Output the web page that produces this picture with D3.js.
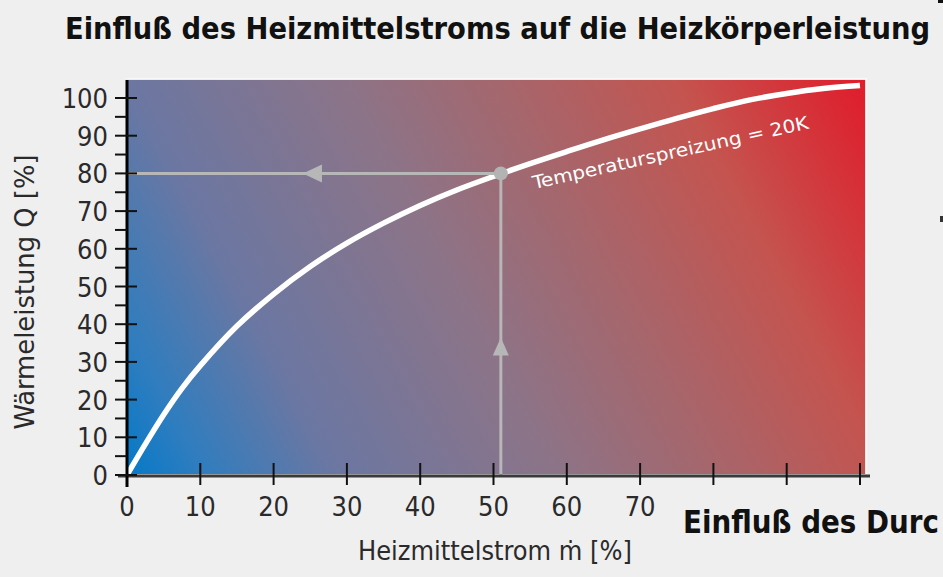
<!DOCTYPE html>
<html>
<head>
<meta charset="utf-8">
<script src="https://cdn.jsdelivr.net/npm/d3@7/dist/d3.min.js"></script>
<style>
  html, body { margin: 0; padding: 0; background: #efefef; overflow: hidden; }
  svg { display: block; }
  .narrow { font-family: "DejaVu Sans Condensed", "DejaVu Sans", "Liberation Sans", sans-serif; font-stretch: condensed; }
</style>
</head>
<body>
<svg id="chart" width="943" height="577"></svg>
<script>
// Heat output of a radiator vs. heating medium flow (spread 20 K)
const flowPct   = [0, 2.5, 5, 7.5, 10, 15, 20, 25, 30, 35, 40, 45, 50, 55, 60, 65, 70, 75, 80, 85, 90, 95, 100];
const outputPct = [0, 8.2, 16, 23, 29, 39.5, 48, 55.3, 61.5, 66.8, 71.5, 75.6, 79.2, 82.6, 85.8, 88.9, 91.8, 94.6, 97.2, 99.5, 101.2, 102.5, 103.3];

// Operating point marked with guide lines
const markFlow = [51];
const markOutput = [80];

const yTicks = [0, 10, 20, 30, 40, 50, 60, 70, 80, 90, 100];
const yMinorTicks = [5, 15, 25, 35, 45, 55, 65, 75, 85, 95];
const xTicks = [0, 10, 20, 30, 40, 50, 60, 70, 80, 90, 100];
const xTickLabels = ["0", "10", "20", "30", "40", "50", "60", "70", "", "", ""];

const titleText = "Einfluß des Heizmittelstroms auf die Heizkörperleistung";
const sideText = "Einfluß des Durc";
const curveLabel = "Temperaturspreizung = 20K";
const xTitle = "Heizmittelstrom ṁ [%]";
const yTitle = "Wärmeleistung Q [%]";

const svg = d3.select("#chart");
const x = d3.scaleLinear().domain([0, 100]).range([127, 860]);
const y = d3.scaleLinear().domain([0, 100]).range([475, 98]);

const xMax = 100.7, yMax = 104.8;
const px0 = x(0), px1 = x(xMax), py0 = y(yMax), py1 = y(0) - 1;

const defs = svg.append("defs");
const grad = defs.append("linearGradient")
  .attr("id", "heat").attr("gradientUnits", "userSpaceOnUse")
  .attr("x1", px0).attr("y1", py1).attr("x2", px1).attr("y2", py0);
[[0, "#0579c8"], [0.08, "#2f7dbf"], [0.22, "#6b77a2"], [0.45, "#8c7488"], [0.62, "#a6666c"], [0.8, "#c4544f"], [1, "#e01c2b"]]
  .forEach(([o, c]) => grad.append("stop").attr("offset", o).attr("stop-color", c));
defs.append("clipPath").attr("id", "plotClip")
  .append("rect").attr("x", px0).attr("y", py0).attr("width", px1 - px0).attr("height", py1 - py0);

// Title
svg.append("text").attr("class", "narrow")
  .attr("transform", "translate(65,39) scale(1,1.1)")
  .attr("font-size", 28).attr("font-weight", "bold").attr("fill", "#111")
  .attr("textLength", 865).attr("lengthAdjust", "spacingAndGlyphs")
  .text(titleText);

// Plot background with thin light frame
svg.append("rect").attr("x", px0).attr("y", py0 - 2).attr("width", px1 - px0 + 2).attr("height", py1 - py0 + 2).attr("fill", "#f8f8f8");
svg.append("rect").attr("x", px0).attr("y", py0).attr("width", px1 - px0).attr("height", py1 - py0).attr("fill", "url(#heat)");

const plot = svg.append("g").attr("clip-path", "url(#plotClip)");

// Characteristic curve
const line = d3.line().x((d, i) => x(flowPct[i])).y(d => y(d)).curve(d3.curveCatmullRom);
plot.append("path").datum(outputPct)
  .attr("d", line).attr("fill", "none").attr("stroke", "#ffffff").attr("stroke-width", 5.5);

// Guide lines to the operating point
const gray = "#b7b7b7";
svg.append("line").attr("x1", x(0)).attr("x2", x(markFlow[0])).attr("y1", y(markOutput[0])).attr("y2", y(markOutput[0]))
  .attr("stroke", gray).attr("stroke-width", 3);
svg.append("line").attr("x1", x(markFlow[0])).attr("x2", x(markFlow[0])).attr("y1", y(markOutput[0])).attr("y2", y(0))
  .attr("stroke", gray).attr("stroke-width", 3);
svg.append("circle").attr("cx", x(markFlow[0])).attr("cy", y(markOutput[0])).attr("r", 7).attr("fill", "#b3b3b3");

// Arrow heads on the guide lines
const lx = x(24), ly = y(markOutput[0]);
svg.append("path").attr("d", `M${lx},${ly} L${lx + 19},${ly - 9} L${lx + 19},${ly + 9} Z`).attr("fill", gray);
const ux = x(markFlow[0]), uy = y(36.5);
svg.append("path").attr("d", `M${ux},${uy} L${ux - 8},${uy + 18} L${ux + 8},${uy + 18} Z`).attr("fill", gray);

// Curve label
svg.append("text").attr("class", "narrow")
  .attr("transform", "translate(534,189) rotate(-12.4)")
  .attr("font-size", 18).attr("fill", "#ffffff")
  .attr("textLength", 282).attr("lengthAdjust", "spacingAndGlyphs")
  .text(curveLabel);

// X axis
const xAxisG = svg.append("g");
xAxisG.append("line").attr("x1", 118).attr("x2", 870).attr("y1", 476).attr("y2", 476)
  .attr("stroke", "#3a3a3a").attr("stroke-width", 3);
xAxisG.selectAll("line.tick").data(xTicks).join("line").attr("class", "tick")
  .attr("x1", d => x(d)).attr("x2", d => x(d)).attr("y1", 463).attr("y2", 485)
  .attr("stroke", "#111").attr("stroke-width", 2);
xAxisG.selectAll("text").data(xTicks).join("text").attr("class", "narrow")
  .attr("x", d => x(d)).attr("y", 516).attr("text-anchor", "middle")
  .attr("font-size", 27).attr("fill", "#2a2a2a")
  .text((d, i) => xTickLabels[i]);

// Y axis
const yAxisG = svg.append("g");
yAxisG.append("line").attr("x1", 127).attr("x2", 127).attr("y1", py0).attr("y2", 487)
  .attr("stroke", "#000").attr("stroke-width", 3);
yAxisG.selectAll("line.major").data(yTicks).join("line").attr("class", "major")
  .attr("x1", 115).attr("x2", 137).attr("y1", d => y(d)).attr("y2", d => y(d))
  .attr("stroke", "#111").attr("stroke-width", 2);
yAxisG.selectAll("line.minor").data(yMinorTicks).join("line").attr("class", "minor")
  .attr("x1", 115).attr("x2", 127).attr("y1", d => y(d)).attr("y2", d => y(d))
  .attr("stroke", "#111").attr("stroke-width", 2);
yAxisG.selectAll("text").data(yTicks).join("text").attr("class", "narrow")
  .attr("x", 108).attr("y", d => y(d) + 10).attr("text-anchor", "end")
  .attr("font-size", 27).attr("fill", "#2a2a2a")
  .text(d => d);

// Axis titles
svg.append("text").attr("class", "narrow")
  .attr("x", 495).attr("y", 560).attr("text-anchor", "middle")
  .attr("font-size", 26).attr("fill", "#2a2a2a")
  .attr("textLength", 274).attr("lengthAdjust", "spacingAndGlyphs")
  .text(xTitle);
svg.append("text").attr("class", "narrow")
  .attr("transform", "translate(34,292) rotate(-90)").attr("text-anchor", "middle")
  .attr("font-size", 26).attr("fill", "#2a2a2a")
  .attr("textLength", 275).attr("lengthAdjust", "spacingAndGlyphs")
  .text(yTitle);

// Neighbouring heading at the page edge
svg.append("text").attr("class", "narrow")
  .attr("transform", "translate(683,533) scale(1,1.15)")
  .attr("font-size", 28).attr("font-weight", "bold").attr("fill", "#111")
  .attr("textLength", 256).attr("lengthAdjust", "spacingAndGlyphs")
  .text(sideText);

// Small edge marks
svg.append("rect").attr("x", 938).attr("y", 0).attr("width", 5).attr("height", 3).attr("fill", "#111");
svg.append("rect").attr("x", 940).attr("y", 216).attr("width", 3).attr("height", 6).attr("fill", "#333");
</script>
</body>
</html>
